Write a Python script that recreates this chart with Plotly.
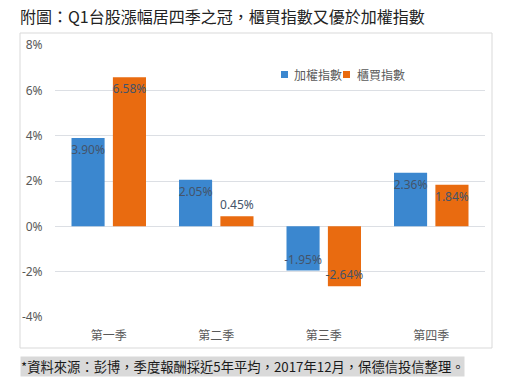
import plotly.graph_objects as go

categories = ["第一季", "第二季", "第三季", "第四季"]
taiex = [3.90, 2.05, -1.95, 2.36]
otc = [6.58, 0.45, -2.64, 1.84]
series_names = ["加權指數", "櫃買指數"]
ytick_vals = [-4, -2, 0, 2, 4, 6, 8]
ytick_text = ["-4%", "-2%", "0%", "2%", "4%", "6%", "8%"]
title_text = "附圖：Q1台股漲幅居四季之冠，櫃買指數又優於加權指數"
footer_text = "*資料來源：彭博，季度報酬採近5年平均，2017年12月，保德信投信整理。"

BLUE = "#3b87cf"
ORANGE = "#e96b10"
FONT = "Noto Sans, Noto Sans CJK TC, sans-serif"
CJK = "Noto Sans CJK TC, sans-serif"

W, H = 508, 392
L, R, T, B = 55, 23, 45, 75
pw, ph = W - L - R, H - T - B


def px(x):
    return (x - L) / pw


def py(y):
    return (H - B - y) / ph


def label_pos(vals):
    return ["outside" if abs(v) < 1 else "inside" for v in vals]


fig = go.Figure()
for name, vals, col in [(series_names[0], taiex, BLUE), (series_names[1], otc, ORANGE)]:
    fig.add_trace(go.Bar(
        x=categories, y=vals, name=name,
        marker=dict(color=col, line=dict(width=0)),
        text=[f"{v:.2f}%" for v in vals],
        textposition=label_pos(vals),
        textangle=0,
        insidetextanchor="end",
        constraintext="none",
        textfont=dict(family=FONT, size=12, color="#44546a"),
        cliponaxis=False,
        showlegend=False,
    ))

fig.update_layout(
    width=W, height=H,
    margin=dict(l=L, r=R, t=T, b=B, autoexpand=False),
    paper_bgcolor="white", plot_bgcolor="white",
    barmode="group", bargap=0.23, bargroupgap=0.2,
    uniformtext=dict(minsize=12, mode="show"),
    font=dict(family=FONT, size=12, color="#595959"),
    title=dict(text=title_text, xref="container", yref="container",
               x=20 / W, y=1 - 17 / H, xanchor="left", yanchor="middle",
               automargin=False,
               font=dict(family=CJK, size=16, color="#222222")),
    xaxis=dict(showgrid=False, showline=False, zeroline=False, automargin=False,
               ticks="outside", ticklen=8, tickcolor="rgba(0,0,0,0)",
               tickfont=dict(family=CJK, size=12, color="#595959")),
    yaxis=dict(range=[-4, 8], tickvals=ytick_vals, ticktext=ytick_text,
               showgrid=True, gridcolor="#dcdfe4", gridwidth=1, automargin=False,
               zeroline=False, showline=False,
               ticks="outside", ticklen=9, tickcolor="rgba(0,0,0,0)",
               tickfont=dict(family=FONT, size=12, color="#595959")),
    showlegend=False,
)

# chart frame
fig.add_shape(type="rect", xref="paper", yref="paper",
              x0=px(20), x1=px(492), y0=py(348), y1=py(33),
              line=dict(color="#d9d9d9", width=1), layer="below")

# legend (custom, compact)
legend_items = [(281, 292, BLUE, series_names[0]), (343, 355, ORANGE, series_names[1])]
for sx, tx, col, name in legend_items:
    fig.add_shape(type="rect", xref="paper", yref="paper",
                  x0=px(sx), x1=px(sx + 7), y0=py(78), y1=py(71),
                  fillcolor=col, line=dict(width=0))
    fig.add_annotation(xref="paper", yref="paper", x=px(tx), y=py(74.5),
                       xanchor="left", yanchor="middle", showarrow=False,
                       text=name, font=dict(family=CJK, size=12, color="#595959"))

# footer
fig.add_annotation(xref="paper", yref="paper", x=px(20), y=py(366.5),
                   xanchor="left", yanchor="middle", showarrow=False,
                   text=footer_text, bgcolor="#d9d9d9", borderpad=0,
                   font=dict(family=CJK, size=13.3, color="#1a1a1a"))

fig.write_html(
    "out.html",
    config={"displayModeBar": False},
    post_script="document.body.style.margin='0';document.body.style.overflow='hidden';",
)
